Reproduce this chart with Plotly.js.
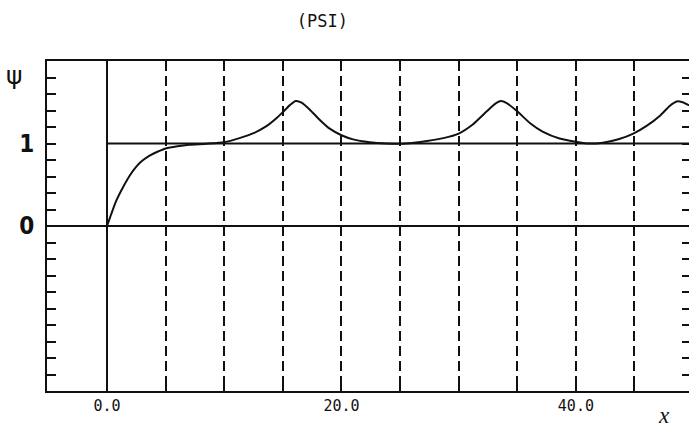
<!DOCTYPE html>
<html>
<head>
<meta charset="utf-8">
<script src="https://cdn.plot.ly/plotly-3.0.1.min.js"></script>
<style>html,body{margin:0;padding:0;background:#fff;}#chart{width:689px;height:429px;}</style>
</head>
<body>
<div id="chart"></div>
<script>
// Curve psi(x)
var psiX = [0, 0.2, 0.4, 0.8, 1.4, 2.0, 2.5, 3.0, 3.6, 4.3, 5.0, 6.0, 7.0, 8.5, 10.0,
            11.3, 12.5, 13.6, 14.4, 15.0, 15.6, 16.1, 16.6, 17.3, 18.2, 19.0, 20.0, 21.0, 22.4, 23.8, 25.0,
            26.2, 27.3, 28.7, 30.0, 31.2, 32.4, 33.1, 33.6, 34.1, 35.0, 36.1, 37.2, 38.6, 40.0, 40.9,
            42.3, 43.7, 44.9, 46.0, 47.2, 48.0, 48.6, 49.1, 49.7];
var psiY = [0, 0.08, 0.16, 0.31, 0.48, 0.625, 0.72, 0.79, 0.85, 0.90, 0.94, 0.967, 0.985, 0.997, 1.015,
            1.065, 1.125, 1.21, 1.30, 1.38, 1.465, 1.515, 1.495, 1.41, 1.28, 1.18, 1.10, 1.05, 1.016, 1.0, 0.997,
            1.01, 1.03, 1.065, 1.12, 1.23, 1.39, 1.48, 1.515, 1.49, 1.39, 1.245, 1.14, 1.06, 1.02, 1.0,
            1.01, 1.055, 1.12, 1.21, 1.34, 1.455, 1.51, 1.50, 1.46];
// Reference level psi = 1
var unitX = [0, 50];
var unitY = [1, 1];
// Axis ticks
var xTickVals = [0, 5, 10, 15, 20, 25, 30, 35, 40, 45];
var xTickText = ['0.0', '', '', '', '20.0', '', '', '', '40.0', ''];
var yTickVals = [-2, -1.8, -1.6, -1.4, -1.2, -1, -0.8, -0.6, -0.4, -0.2, 0, 0.2, 0.4, 0.6, 0.8, 1, 1.2, 1.4, 1.6, 1.8, 2];
var yTickText = ['', '', '', '', '', '', '', '', '', '', '0', '', '', '', '', '1', '', '', '', '', ''];
var titleText = '(PSI)';
var yLabel = 'ψ';
var xLabel = 'x';

var ink = '#111';
var traces = [
  {x: unitX, y: unitY, mode: 'lines', line: {color: ink, width: 2}, hoverinfo: 'skip', showlegend: false},
  {x: psiX, y: psiY, mode: 'lines', line: {color: ink, width: 2, shape: 'spline', smoothing: 0.6}, showlegend: false},
  {x: [], y: [], yaxis: 'y2', showlegend: false}
];

var layout = {
  width: 689, height: 429,
  margin: {l: 47, r: 0, t: 61, b: 38, pad: 0},
  paper_bgcolor: '#fff', plot_bgcolor: '#fff',
  showlegend: false,
  title: {text: titleText, x: 0.468, xanchor: 'center', y: 0.95, yanchor: 'middle',
          font: {family: 'DejaVu Sans Mono, monospace', size: 17, color: ink}},
  xaxis: {
    range: [-5.12, 49.65], showline: true, linecolor: ink, linewidth: 2, mirror: true,
    tickmode: 'array', tickvals: xTickVals, ticktext: xTickText,
    ticks: 'inside', ticklen: 5, tickwidth: 2, tickcolor: ink,
    tickfont: {family: 'DejaVu Sans Mono, monospace', size: 15, color: ink},
    showgrid: true, gridcolor: ink, gridwidth: 2, griddash: '10px,5px',
    zeroline: true, zerolinecolor: ink, zerolinewidth: 2,
    fixedrange: true
  },
  yaxis: {
    range: [-2, 2], showline: true, linecolor: ink, linewidth: 2,
    tickmode: 'array', tickvals: yTickVals, ticktext: yTickText,
    ticks: 'inside', ticklen: 9, tickwidth: 2, tickcolor: ink,
    tickfont: {family: 'DejaVu Sans Condensed, Liberation Sans Narrow, sans-serif', size: 24, color: ink, weight: 'bold'},
    ticklabelstandoff: 6,
    showgrid: false, zeroline: true, zerolinecolor: ink, zerolinewidth: 2,
    fixedrange: true
  },
  yaxis2: {
    range: [-2, 2], overlaying: 'y', side: 'right', showline: false,
    tickmode: 'array', tickvals: yTickVals, showticklabels: false,
    ticks: 'inside', ticklen: 7, tickwidth: 2, tickcolor: ink,
    showgrid: false, zeroline: false, fixedrange: true
  },
  annotations: [
    {xref: 'paper', yref: 'y', x: -0.05, y: 1.82, xanchor: 'center', yanchor: 'middle', text: yLabel,
     showarrow: false, font: {family: 'DejaVu Sans, sans-serif', size: 25, color: ink}},
    {xref: 'paper', yref: 'paper', x: (664 - 47) / 642, y: -(416 - 391) / 331, xanchor: 'center', yanchor: 'middle',
     text: '<i>' + xLabel + '</i>', showarrow: false,
     font: {family: 'Liberation Serif, DejaVu Serif, serif', size: 23, color: ink}}
  ]
};

Plotly.newPlot('chart', traces, layout, {staticPlot: true, displayModeBar: false});
</script>
</body>
</html>
